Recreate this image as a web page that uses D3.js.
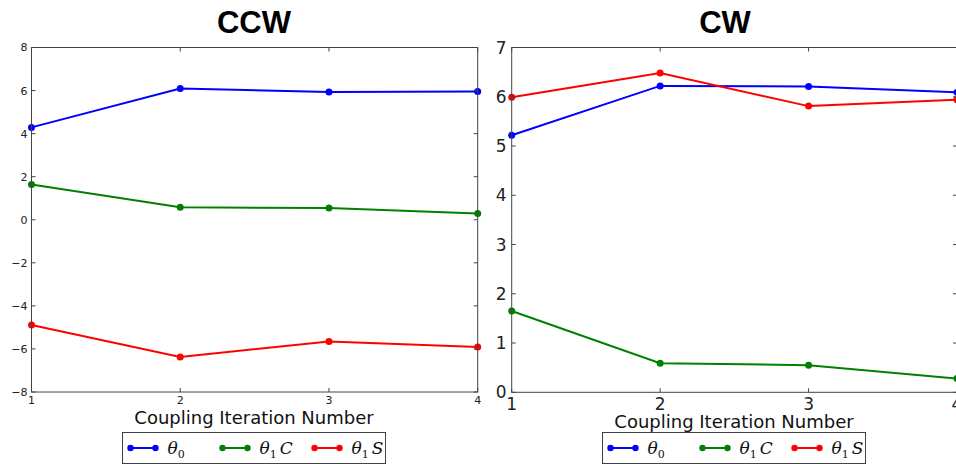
<!DOCTYPE html>
<html><head><meta charset="utf-8">
<script src="https://cdn.jsdelivr.net/npm/d3@7"></script>
<style>body{margin:0;background:#fff}svg{display:block}</style>
</head><body>
<script>
const iterations = [1, 2, 3, 4];
const ccwTheta0 = [4.29, 6.10, 5.93, 5.96];
const ccwTheta1C = [1.64, 0.58, 0.54, 0.29];
const ccwTheta1S = [-4.89, -6.37, -5.65, -5.91];
const cwTheta0 = [5.22, 6.22, 6.21, 6.09];
const cwTheta1C = [1.65, 0.59, 0.55, 0.28];
const cwTheta1S = [5.99, 6.48, 5.81, 5.94];
const ccwYTicks = [-8, -6, -4, -2, 0, 2, 4, 6, 8];
const cwYTicks = [0, 1, 2, 3, 4, 5, 6, 7];
const seriesColors = ["#0000ff", "#008000", "#ff0000"];

const W = 956, H = 464;
const svg = d3.select("body").append("svg").attr("width", W).attr("height", H);

function panel(g, opt) {
  const x = d3.scaleLinear().domain([1, 4]).range([opt.x0, opt.x1]);
  const y = d3.scaleLinear().domain(opt.ydom).range([opt.y1, opt.y0]);
  const series = [opt.s0, opt.s1, opt.s2];
  series.forEach((vals, i) => {
    const pts = iterations.map((it, k) => [x(it), y(vals[k])]);
    g.append("path").attr("d", d3.line()(pts)).attr("fill", "none")
      .attr("stroke", seriesColors[i]).attr("stroke-width", 2);
    g.selectAll(null).data(pts).enter().append("circle")
      .attr("cx", d => d[0]).attr("cy", d => d[1]).attr("r", 3.5)
      .attr("fill", seriesColors[i]);
  });
  g.append("rect").attr("x", opt.x0).attr("y", opt.y0)
    .attr("width", opt.x1 - opt.x0).attr("height", opt.y1 - opt.y0)
    .attr("fill", "none").attr("stroke", "#444").attr("stroke-width", 1);
  const tl = 4;
  iterations.forEach(t => {
    const px = x(t);
    g.append("line").attr("x1", px).attr("x2", px).attr("y1", opt.y1).attr("y2", opt.y1 - tl).attr("stroke", "#444");
    g.append("line").attr("x1", px).attr("x2", px).attr("y1", opt.y0).attr("y2", opt.y0 + tl).attr("stroke", "#444");
    g.append("text").attr("x", px).attr("y", opt.xlabY).attr("text-anchor", "middle")
      .attr("font-family", "DejaVu Sans").attr("font-size", opt.tickFs).attr("fill", "#222").text(t);
  });
  opt.yticks.forEach(t => {
    const py = y(t);
    g.append("line").attr("x1", opt.x0).attr("x2", opt.x0 + tl).attr("y1", py).attr("y2", py).attr("stroke", "#444");
    g.append("line").attr("x1", opt.x1).attr("x2", opt.x1 - tl).attr("y1", py).attr("y2", py).attr("stroke", "#444");
    g.append("text").attr("x", opt.x0 - opt.ylabGap).attr("y", py).attr("dy", "0.36em").attr("text-anchor", "end")
      .attr("font-family", "DejaVu Sans").attr("font-size", opt.tickFs).attr("fill", "#222")
      .text(t < 0 ? "\u2212" + Math.abs(t) : t);
  });
  g.append("text").attr("x", opt.titleX).attr("y", 33).attr("text-anchor", "middle")
    .attr("font-family", "Liberation Sans").attr("font-weight", "bold").attr("font-size", 31)
    .attr("fill", "#000").text(opt.title);
  g.append("text").attr("x", opt.xtitleX).attr("y", opt.xtitleY).attr("text-anchor", "middle")
    .attr("font-family", "DejaVu Sans").attr("font-size", 18).attr("fill", "#111")
    .text("Coupling Iteration Number");
  const lx = opt.legX;
  g.append("rect").attr("x", lx).attr("y", 432.5).attr("width", 263).attr("height", 31)
    .attr("fill", "#fff").attr("stroke", "#444").attr("stroke-width", 1);
  const items = [
    {main: "\u03B8", sub: "0", tail: ""},
    {main: "\u03B8", sub: "1", tail: "C"},
    {main: "\u03B8", sub: "1", tail: "S"}
  ];
  items.forEach((it, i) => {
    const sx = lx + 8 + i * 92;
    const ly = 448;
    g.append("line").attr("x1", sx).attr("x2", sx + 25).attr("y1", ly).attr("y2", ly)
      .attr("stroke", seriesColors[i]).attr("stroke-width", 2);
    [sx, sx + 25].forEach(cx => g.append("circle").attr("cx", cx).attr("cy", ly).attr("r", 3.2).attr("fill", seriesColors[i]));
    const t = g.append("text").attr("x", sx + 37).attr("y", ly + 6)
      .attr("font-family", "DejaVu Serif").attr("font-style", "italic").attr("font-size", 17).attr("fill", "#111");
    t.append("tspan").text(it.main);
    t.append("tspan").attr("dy", 4).attr("font-size", 11).attr("font-style", "normal").text(it.sub);
    if (it.tail) t.append("tspan").attr("dy", -4).attr("dx", 3).text(it.tail);
  });
}

const gL = svg.append("g");
panel(gL, {x0: 31.5, x1: 477.7, y0: 47.5, y1: 392, ydom: [-8, 8], yticks: ccwYTicks,
  s0: ccwTheta0, s1: ccwTheta1C, s2: ccwTheta1S, tickFs: 11, ylabGap: 4, xlabY: 404,
  title: "CCW", titleX: 254, xtitleX: 254, xtitleY: 424, legX: 122.5});

const gR = svg.append("g");
gR.append("rect").attr("x", 482).attr("y", 0).attr("width", W - 482).attr("height", H).attr("fill", "#fff");
panel(gR, {x0: 511.7, x1: 957, y0: 47.5, y1: 392.3, ydom: [0, 7], yticks: cwYTicks,
  s0: cwTheta0, s1: cwTheta1C, s2: cwTheta1S, tickFs: 17, ylabGap: 5, xlabY: 410,
  title: "CW", titleX: 725, xtitleX: 734, xtitleY: 428, legX: 602.5});
</script>
</body></html>
